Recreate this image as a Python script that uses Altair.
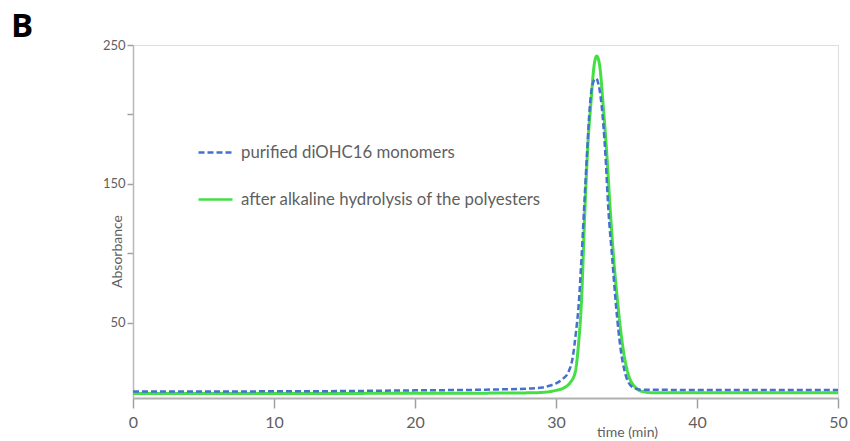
import altair as alt
import pandas as pd

# ---- data ----
blue_name = "purified diOHC16 monomers"
green_name = "after alkaline hydrolysis of the polyesters"

green_time = [0, 5, 10, 15, 20, 25, 28, 29, 29.5, 30, 30.5, 31, 31.35, 31.6, 31.8,
              32.06, 32.3, 32.46, 32.7, 32.89, 33.1, 33.35, 33.6, 33.83, 34.1, 34.4,
              34.75, 35.1, 35.6, 36.2, 37, 40, 45, 50]
green_abs = [-0.8, -0.8, -0.8, -0.7, -0.6, -0.5, -0.3, 0, 0.5, 1.5, 3, 7, 14, 35, 64,
             134, 185, 206, 235, 242, 235, 206, 172, 134, 95, 62,
             32, 14, 4, 0.5, -0.3, -0.3, -0.2, -0.2]

blue_time = [0, 5, 10, 15, 20, 25, 28, 29, 29.6, 30, 30.5, 30.85, 31.2, 31.4, 31.6,
             31.8, 32.0, 32.2, 32.4, 32.6, 32.84, 33.05, 33.24, 33.5, 33.7, 34.0,
             34.26, 34.6, 34.9, 35.4, 36, 40, 45, 50]
blue_abs = [0.7, 0.7, 0.8, 1.0, 1.5, 2.0, 2.8, 3.5, 5, 6.5, 10, 14, 26, 42, 62,
            95, 134, 172, 206, 222, 226, 220, 206, 172, 134, 95,
            62, 30, 14, 4, 2, 1.8, 1.8, 1.8]

x_ticks = [0, 10, 20, 30, 40, 50]
y_ticks = [50, 100, 150, 200, 250]

blue_col = "#4470CF"
green_col = "#45DE45"
grey_txt = "#5f5f5f"

df_green = pd.DataFrame({"time": green_time, "abs": green_abs, "series": green_name})
df_blue = pd.DataFrame({"time": blue_time, "abs": blue_abs, "series": blue_name})

legend = alt.Legend(
    orient="none", legendX=64, legendY=89, title=None,
    symbolType="stroke", symbolSize=1156, symbolStrokeWidth=2.5,
    labelFontSize=16.8, labelFont="Lato", labelColor=grey_txt, labelLimit=0,
    labelOffset=7, rowPadding=19, direction="vertical",
)

color = alt.Color("series:N",
                  scale=alt.Scale(domain=[blue_name, green_name], range=[blue_col, green_col]),
                  legend=legend)
dash = alt.StrokeDash("series:N",
                      scale=alt.Scale(domain=[blue_name, green_name], range=[[6, 3], [1, 0]]),
                      legend=legend)

x_enc = alt.X("time:Q", scale=alt.Scale(domain=[0, 50], nice=False),
              axis=alt.Axis(values=x_ticks, title="time (min)", titleX=494, titleY=38,
                            titleAlign="center", titleBaseline="alphabetic",
                            titleFontSize=14, titleFontWeight="normal", titleColor=grey_txt,
                            titleFont="Lato", labelFont="Lato", labelFontSize=16,
                            labelColor=grey_txt, tickSize=10, labelPadding=6,
                            labelFlush=False,
                            domainColor="#b0b0b0", domainWidth=2, tickColor="#a0a0a0",
                            tickWidth=1.5, grid=False))
y_enc = alt.Y("abs:Q", scale=alt.Scale(domain=[-4, 250], nice=False, zero=False),
              axis=alt.Axis(values=y_ticks,
                            labelExpr="datum.value % 100 == 50 ? datum.label : ''",
                            title="Absorbance", titleX=-16, titleY=206, titleAngle=270,
                            titleAlign="center", titleBaseline="middle",
                            titleFontSize=14, titleFontWeight="normal", titleColor=grey_txt,
                            titleFont="Lato", labelFont="Lato", labelFontSize=13,
                            labelColor=grey_txt, tickSize=6, labelPadding=2,
                            labelFlush=False,
                            domainColor="#b8b8b8", domainWidth=1.5, tickColor="#a0a0a0",
                            tickWidth=1.5, grid=False))

green_line = alt.Chart(df_green).mark_line(strokeWidth=3, interpolate="monotone").encode(
    x=x_enc, y=y_enc, color=color, strokeDash=dash)
blue_line = alt.Chart(df_blue).mark_line(strokeWidth=2.5, interpolate="monotone").encode(
    x=x_enc, y=y_enc, color=color, strokeDash=dash)

panel = alt.Chart(pd.DataFrame({"t": ["B"]})).mark_text(
    fontSize=33, fontWeight="bold", font="Open Sans", align="center",
    baseline="alphabetic", color="black").encode(
    x=alt.value(-111), y=alt.value(-8), text="t:N")

chart = alt.layer(green_line, blue_line, panel).properties(
    width=705, height=353,
    autosize=alt.AutoSizeParams(type="none"),
    padding={"left": 133, "top": 45, "right": 12, "bottom": 43},
).configure_view(stroke=None).configure(background="white")

chart.save("out.html", embed_options={"renderer": "svg", "actions": False})
